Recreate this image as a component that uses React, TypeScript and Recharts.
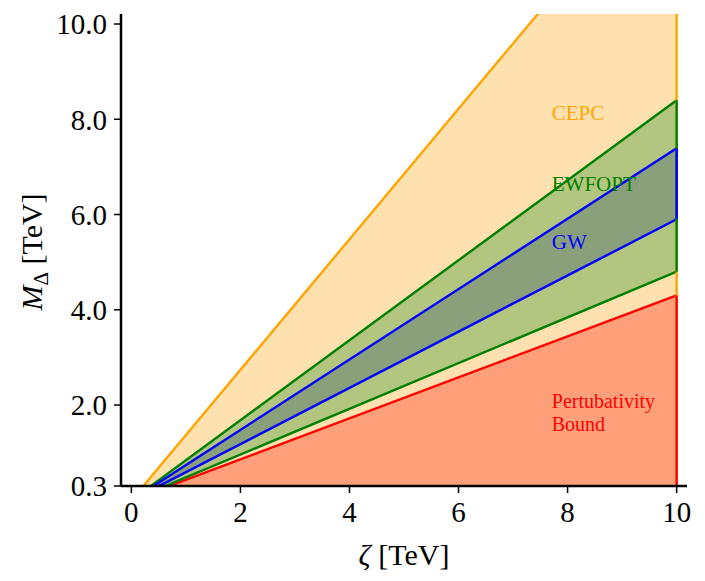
import React from 'react';
import {
  ComposedChart,
  Area,
  XAxis,
  YAxis,
  ReferenceLine,
  ReferenceDot,
} from 'recharts';

// ζ values (TeV) at which the bounding lines are given
const zeta = [0, 10];
// bounding lines M_Δ (TeV) at each ζ
const cepcUpper = [0, 13.7];
const ewfoptLower = [0, 4.8];
const ewfoptUpper = [0, 8.4];
const gwLower = [0, 5.9];
const gwUpper = [0, 7.39];
const pertUpper = [0, 4.3];

const xTicks = [0, 2, 4, 6, 8, 10];
const yTicks = [0.3, 2, 4, 6, 8, 10];
const xDomain = [-0.19, 10.19];
const yDomain = [0.3, 10.21];

const labels = [
  { lines: ['CEPC'], x: 7.71, y: 8.14, color: '#FFA500' },
  { lines: ['EWFOPT'], x: 7.71, y: 6.66, color: '#008000' },
  { lines: ['GW'], x: 7.71, y: 5.44, color: '#0000FF' },
  { lines: ['Pertubativity', 'Bound'], x: 7.71, y: 2.1, color: '#FF0000' },
];

const rows = zeta.map((z, i) => ({
  z,
  cepc: [0, cepcUpper[i]],
  ewfopt: [ewfoptLower[i], ewfoptUpper[i]],
  gw: [gwLower[i], gwUpper[i]],
  pert: [0, pertUpper[i]],
}));

const FONT = "'Liberation Serif', 'DejaVu Serif', serif";
const last = zeta.length - 1;
const LW = 2.4;

const XLabel = (props: any) => {
  const vb = props.viewBox || {};
  const cx = vb.x + vb.width / 2;
  const y = vb.y + 79;
  return (
    <text x={cx} y={y} textAnchor="middle" style={{ fontFamily: FONT }} fontSize={30} fill="#000">
      <tspan fontStyle="italic">ζ</tspan>
      <tspan> [TeV]</tspan>
    </text>
  );
};

const YLabel = (props: any) => {
  const vb = props.viewBox || {};
  const cy = vb.y + vb.height / 2 + 2;
  const x = 42;
  return (
    <text
      x={x}
      y={cy}
      textAnchor="middle"
      style={{ fontFamily: FONT }}
      fontSize={30}
      fill="#000"
      transform={`rotate(-90, ${x}, ${cy})`}
    >
      <tspan fontStyle="italic">M</tspan>
      <tspan fontSize={21} dy={6}>Δ</tspan>
      <tspan dy={-6}> [TeV]</tspan>
    </text>
  );
};

const makeTextLabel = (lines: string[], color: string) => (props: any) => {
  const vb = props.viewBox || {};
  const x = vb.x + (vb.width || 0);
  const y = vb.y + (vb.height || 0) / 2 + 7.5;
  return (
    <text x={x} y={y} textAnchor="start" style={{ fontFamily: FONT }} fontSize={lines.length > 1 ? 20 : 21} fill={color}>
      {lines.map((t, i) => (
        <tspan key={t} x={x} dy={i === 0 ? 0 : 23}>
          {t}
        </tspan>
      ))}
    </text>
  );
};

export default function App() {
  return (
    <div
      style={{
        position: 'absolute',
        left: 0,
        top: 0,
        width: 705,
        height: 581,
        background: '#fff',
        fontFamily: FONT,
      }}
    >
      <ComposedChart
        width={705}
        height={581}
        data={rows}
        margin={{ top: 14, right: 18, bottom: 0, left: 0 }}
      >
        <XAxis
          dataKey="z"
          type="number"
          domain={xDomain}
          ticks={xTicks}
          allowDataOverflow
          height={95}
          tickSize={7}
          tickMargin={8}
          axisLine={{ stroke: '#000', strokeWidth: 2.5 }}
          tickLine={{ stroke: '#000', strokeWidth: 1.5 }}
          tick={{ fill: '#000', fontSize: 29, fontFamily: FONT }}
          label={<XLabel />}
        />
        <XAxis
          xAxisId="top"
          orientation="top"
          type="number"
          domain={xDomain}
          allowDataOverflow
          height={0}
          tick={false}
          tickLine={false}
          axisLine={{ stroke: '#000', strokeWidth: 2.5 }}
        />
        <YAxis
          type="number"
          domain={yDomain}
          ticks={yTicks}
          allowDataOverflow
          width={121}
          tickSize={7}
          tickMargin={7}
          tickFormatter={(v: number) => v.toFixed(1)}
          axisLine={{ stroke: '#000', strokeWidth: 2.5 }}
          tickLine={{ stroke: '#000', strokeWidth: 1.5 }}
          tick={{ fill: '#000', fontSize: 29, fontFamily: FONT }}
          label={<YLabel />}
        />
        <YAxis
          yAxisId="right"
          orientation="right"
          type="number"
          domain={yDomain}
          allowDataOverflow
          width={0}
          tick={false}
          tickLine={false}
          axisLine={{ stroke: '#000', strokeWidth: 2.5 }}
        />

        <Area
          type="linear"
          dataKey="cepc"
          stroke="#FFA500"
          strokeWidth={LW}
          fill="#FFE1B0"
          fillOpacity={1}
          dot={false}
          activeDot={false}
          isAnimationActive={false}
        />
        <Area
          type="linear"
          dataKey="pert"
          stroke="#FF0000"
          strokeWidth={LW}
          fill="#FFA07A"
          fillOpacity={1}
          dot={false}
          activeDot={false}
          isAnimationActive={false}
        />
        <Area
          type="linear"
          dataKey="ewfopt"
          stroke="#008000"
          strokeWidth={LW}
          fill="#B2C67F"
          fillOpacity={1}
          dot={false}
          activeDot={false}
          isAnimationActive={false}
        />
        <Area
          type="linear"
          dataKey="gw"
          stroke="#0000FF"
          strokeWidth={LW}
          fill="#8AA07B"
          fillOpacity={1}
          dot={false}
          activeDot={false}
          isAnimationActive={false}
        />

        <ReferenceLine
          segment={[{ x: zeta[last], y: yDomain[0] }, { x: zeta[last], y: yDomain[1] }]}
          stroke="#FFA500"
          strokeWidth={LW}
        />
        <ReferenceLine
          segment={[{ x: zeta[last], y: ewfoptLower[last] }, { x: zeta[last], y: ewfoptUpper[last] }]}
          stroke="#008000"
          strokeWidth={LW}
        />
        <ReferenceLine
          segment={[{ x: zeta[last], y: gwLower[last] }, { x: zeta[last], y: gwUpper[last] }]}
          stroke="#0000FF"
          strokeWidth={LW}
        />
        <ReferenceLine
          segment={[{ x: zeta[last], y: yDomain[0] }, { x: zeta[last], y: pertUpper[last] }]}
          stroke="#FF0000"
          strokeWidth={LW}
        />

        {labels.map((l) => (
          <ReferenceDot
            key={l.lines[0]}
            x={l.x}
            y={l.y}
            r={0}
            fill="none"
            stroke="none"
            label={{ content: makeTextLabel(l.lines, l.color) }}
          />
        ))}
      </ComposedChart>
    </div>
  );
}
